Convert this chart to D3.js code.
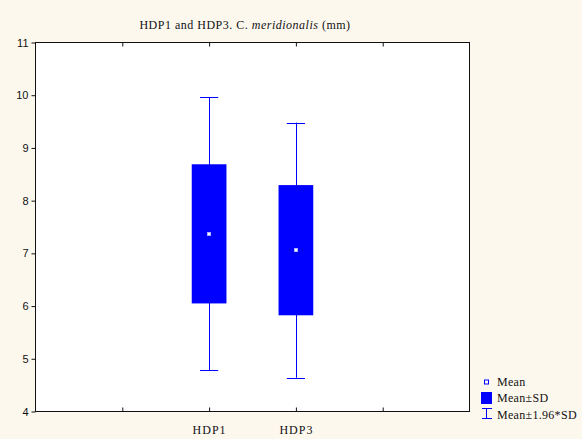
<!DOCTYPE html>
<html>
<head>
<meta charset="utf-8">
<script src="https://cdn.jsdelivr.net/npm/d3@7"></script>
<style>
  html, body { margin: 0; padding: 0; background: #fdf8ee; }
  svg { display: block; }
</style>
</head>
<body>
<svg id="chart" width="582" height="439"></svg>
<script>
// Group summaries (mm)
const categories = ["HDP1", "HDP3"];
const slotIndex = [2, 3];          // position of each group among the x slots
const means = [7.37, 7.06];
const sds = [1.32, 1.235];
const yTicks = [4, 5, 6, 7, 8, 9, 10, 11];
const xTicks = [1, 2, 3, 4];

const W = 582, H = 439;
const plot = { left: 35.5, right: 469.5, top: 42.5, bottom: 411.5 };
const blue = "#0000ff";
const serif = "'Palatino Linotype', 'Book Antiqua', Palatino, 'Liberation Serif', serif";
const sans = "Arial, 'Liberation Sans', sans-serif";

const svg = d3.select("#chart");

const x = d3.scaleLinear().domain([0, 5]).range([plot.left, plot.right]);
const y = d3.scaleLinear().domain([4, 11]).range([plot.bottom, plot.top]);

// plot area
svg.append("rect")
  .attr("x", plot.left).attr("y", plot.top)
  .attr("width", plot.right - plot.left).attr("height", plot.bottom - plot.top)
  .attr("fill", "#ffffff");

// title
const title = svg.append("text")
  .attr("x", 245).attr("y", 29)
  .attr("text-anchor", "middle")
  .attr("font-family", serif).attr("font-size", 12)
  .attr("letter-spacing", 0.5)
  .attr("fill", "#111");
title.append("tspan").text("HDP1 and HDP3. C. ");
title.append("tspan").attr("font-style", "italic").text("meridionalis");
title.append("tspan").text(" (mm)");

// y axis (ticks outward)
const yAxis = d3.axisLeft(y).tickValues(yTicks).tickSize(4).tickPadding(3).tickFormat(d3.format("d"));
const gy = svg.append("g").attr("transform", `translate(${plot.left},0)`).call(yAxis);
gy.select(".domain").remove();
gy.selectAll("text").attr("font-family", sans).attr("font-size", 11).attr("fill", "#111");
gy.selectAll("line").attr("stroke", "#111");

// bottom axis (ticks inward)
const labelOf = v => { const i = slotIndex.indexOf(v); return i >= 0 ? categories[i] : ""; };
const xAxisB = d3.axisBottom(x).tickValues(xTicks).tickSize(-4).tickPadding(14).tickFormat(labelOf);
const gxb = svg.append("g").attr("transform", `translate(0,${plot.bottom})`).call(xAxisB);
gxb.select(".domain").remove();
gxb.selectAll("text").attr("font-family", serif).attr("font-size", 12)
  .attr("letter-spacing", 1).attr("fill", "#111");
gxb.selectAll("line").attr("stroke", "#111");

// top axis (ticks inward, no labels)
const xAxisT = d3.axisTop(x).tickValues(xTicks).tickSize(-4).tickFormat("");
const gxt = svg.append("g").attr("transform", `translate(0,${plot.top})`).call(xAxisT);
gxt.select(".domain").remove();
gxt.selectAll("line").attr("stroke", "#111");

// frame
svg.append("rect")
  .attr("x", plot.left).attr("y", plot.top)
  .attr("width", plot.right - plot.left).attr("height", plot.bottom - plot.top)
  .attr("fill", "none").attr("stroke", "#111").attr("stroke-width", 1);

// boxes
const slot = x(1) - x(0);
const boxW = slot * 0.4;
const capW = slot * 0.21;

const groups = svg.append("g").selectAll("g")
  .data(categories.map((c, i) => ({ c, pos: slotIndex[i], m: means[i], s: sds[i] })))
  .join("g");

// whiskers: mean ± 1.96*SD
groups.append("line")
  .attr("x1", d => Math.round(x(d.pos)) + 0.5).attr("x2", d => Math.round(x(d.pos)) + 0.5)
  .attr("y1", d => y(d.m + 1.96 * d.s)).attr("y2", d => y(d.m - 1.96 * d.s))
  .attr("stroke", blue).attr("stroke-width", 1);
groups.append("line")
  .attr("x1", d => x(d.pos) - capW / 2).attr("x2", d => x(d.pos) + capW / 2)
  .attr("y1", d => Math.round(y(d.m + 1.96 * d.s)) + 0.5).attr("y2", d => Math.round(y(d.m + 1.96 * d.s)) + 0.5)
  .attr("stroke", blue).attr("stroke-width", 1);
groups.append("line")
  .attr("x1", d => x(d.pos) - capW / 2).attr("x2", d => x(d.pos) + capW / 2)
  .attr("y1", d => Math.round(y(d.m - 1.96 * d.s)) + 0.5).attr("y2", d => Math.round(y(d.m - 1.96 * d.s)) + 0.5)
  .attr("stroke", blue).attr("stroke-width", 1);

// box: mean ± SD
groups.append("rect")
  .attr("x", d => x(d.pos) - boxW / 2).attr("width", boxW)
  .attr("y", d => y(d.m + d.s)).attr("height", d => y(d.m - d.s) - y(d.m + d.s))
  .attr("fill", blue);

// mean point
groups.append("rect")
  .attr("x", d => Math.round(x(d.pos)) - 1.5).attr("y", d => Math.round(y(d.m)) - 1.5)
  .attr("width", 3).attr("height", 3)
  .attr("fill", "#ffffff").attr("stroke", "#aab0ff").attr("stroke-width", 1);

// legend
const lg = svg.append("g").attr("font-family", serif).attr("font-size", 12)
  .attr("letter-spacing", 0.3).attr("fill", "#111");
const lx = 486.5, tx = 497;
lg.append("rect").attr("x", lx - 2).attr("y", 380).attr("width", 4).attr("height", 4)
  .attr("fill", "#ffffff").attr("stroke", blue).attr("stroke-width", 1);
lg.append("text").attr("x", tx).attr("y", 386).text("Mean");
lg.append("rect").attr("x", 481).attr("y", 392).attr("width", 11).attr("height", 12).attr("fill", blue);
lg.append("text").attr("x", tx).attr("y", 402).text("Mean±SD");
lg.append("line").attr("x1", lx).attr("x2", lx).attr("y1", 408).attr("y2", 418).attr("stroke", blue);
lg.append("line").attr("x1", 482).attr("x2", 492).attr("y1", 408.5).attr("y2", 408.5).attr("stroke", blue);
lg.append("line").attr("x1", 482).attr("x2", 492).attr("y1", 418.5).attr("y2", 418.5).attr("stroke", blue);
lg.append("text").attr("x", tx).attr("y", 419).text("Mean±1.96*SD");
</script>
</body>
</html>
